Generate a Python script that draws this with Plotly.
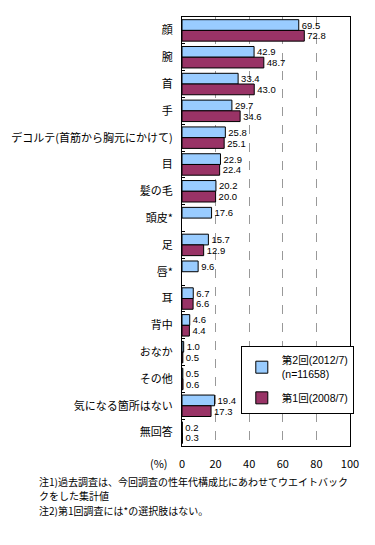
import plotly.graph_objects as go

categories = ["顔", "腕", "首", "手", "デコルテ(首筋から胸元にかけて)", "目", "髪の毛", "頭皮*",
              "足", "唇*", "耳", "背中", "おなか", "その他", "気になる箇所はない", "無回答"]
second = [69.5, 42.9, 33.4, 29.7, 25.8, 22.9, 20.2, 17.6, 15.7, 9.6, 6.7, 4.6, 1.0, 0.5, 19.4, 0.2]
first = [72.8, 48.7, 43.0, 34.6, 25.1, 22.4, 20.0, None, 12.9, None, 6.6, 4.4, 0.5, 0.6, 17.3, 0.3]
xticks = [0, 20, 40, 60, 80, 100]

FONT = "Noto Sans CJK JP"
NUMFONT = "Liberation Sans"

def labels(vals):
    return ["" if v is None else f"{v:.1f}" for v in vals]

fig = go.Figure()
fig.add_trace(go.Bar(
    y=categories, x=second, orientation="h", name="第2回(2012/7)<br>(n=11658)",
    legendgroup="a",
    marker=dict(color="#99CCFF", line=dict(color="black", width=1)),
    text=labels(second), textposition="outside", cliponaxis=False, constraintext="none",
    textfont=dict(size=9.5, color="black", family=NUMFONT),
))
fig.add_trace(go.Bar(
    y=categories, x=first, orientation="h", name="第1回(2008/7)",
    legendgroup="b",
    marker=dict(color="#993366", line=dict(color="black", width=1)),
    text=labels(first), textposition="outside", cliponaxis=False, constraintext="none",
    textfont=dict(size=9.5, color="black", family=NUMFONT),
))

fig.update_layout(
    width=375, height=545,
    margin=dict(l=182, r=25, t=17, b=99, autoexpand=False),
    barmode="group", bargap=0.2, bargroupgap=0,
    plot_bgcolor="white", paper_bgcolor="white",
    font=dict(family=FONT, size=11, color="black"),
    legend=dict(
        x=0.35, y=0.233, xanchor="left", yanchor="top",
        bordercolor="black", borderwidth=1, bgcolor="white",
        font=dict(size=10.5, family="Liberation Sans, Noto Sans CJK JP"), tracegroupgap=6,
        itemwidth=30,
    ),
    xaxis=dict(
        range=[0, 100], tickvals=xticks, ticktext=[str(t) for t in xticks],
        showgrid=True, gridcolor="#999999", griddash="dash", gridwidth=1,
        showline=True, linecolor="black", linewidth=1, mirror=True,
        zeroline=False, ticks="", ticklabelstandoff=8, automargin=False,
        tickfont=dict(size=11, family=FONT),
    ),
    yaxis=dict(
        autorange="reversed", showline=True, linecolor="black", linewidth=1,
        mirror=True, ticks="inside", tickson="boundaries", ticklen=3,
        tickcolor="black", showgrid=False, ticklabelstandoff=6, automargin=False,
        tickfont=dict(size=11, family=FONT),
    ),
)

fig.add_annotation(text="(%)", xref="paper", yref="paper", x=-0.07, y=0, yshift=-17,
                   xanchor="right", yanchor="middle", showarrow=False,
                   font=dict(size=11, family=FONT))
notes = [
    "注1)過去調査は、今回調査の性年代構成比にあわせてウエイトバック",
    "クをした集計値",
    "注2)第1回調査には*の選択肢はない。",
]
note_y = [481, 495, 510]
for t, py in zip(notes, note_y):
    fig.add_annotation(text=t, xref="paper", yref="paper",
                       x=(37 - 182) / 168, y=(446 - py) / 429,
                       xanchor="left", yanchor="middle", showarrow=False,
                       font=dict(size=10, family=FONT))

fig.write_html("out.html", post_script="document.body.style.margin='0';",
               config={"displayModeBar": False})
